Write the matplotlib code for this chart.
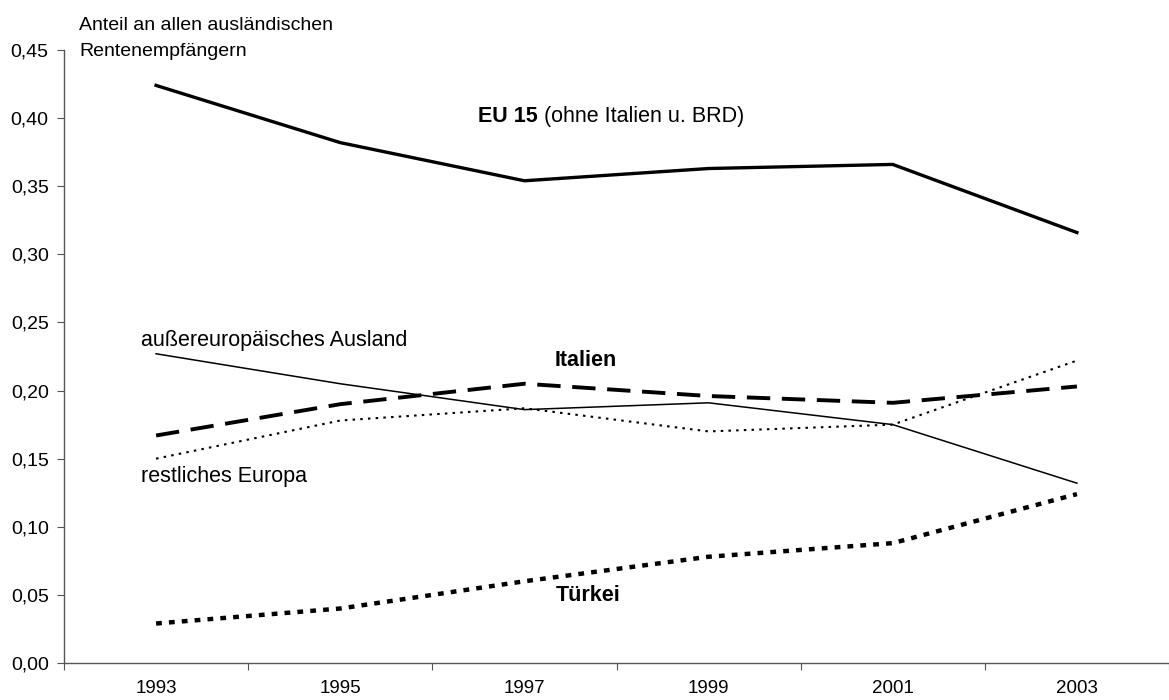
import matplotlib
matplotlib.use('Agg')
import matplotlib.pyplot as plt
from matplotlib.ticker import FuncFormatter

plt.rcParams['font.family'] = ['Liberation Sans', 'DejaVu Sans']

years = ['1993', '1995', '1997', '1999', '2001', '2003']
eu15 = [0.424, 0.382, 0.354, 0.363, 0.366, 0.316]
italien = [0.167, 0.190, 0.205, 0.196, 0.191, 0.203]
ausserEU = [0.227, 0.205, 0.186, 0.191, 0.175, 0.132]
rest_europa = [0.150, 0.178, 0.187, 0.170, 0.175, 0.222]
tuerkei = [0.029, 0.040, 0.060, 0.078, 0.088, 0.124]

x = list(range(len(years)))

fig = plt.figure(figsize=(11.69, 7.0), dpi=100)
# axes from left spine (px 64) to the right edge of the image
ax = fig.add_axes([64/1169, 37/700, 1105/1169, 613/700])

ax.plot(x, eu15, '-', color='black', lw=2.4)
ax.plot(x, italien, color='black', lw=2.8, dashes=(6, 3))
ax.plot(x, ausserEU, '-', color='black', lw=1.1)
ax.plot(x, rest_europa, color='black', lw=1.5, dashes=(1.2, 2.5))
ax.plot(x, tuerkei, color='black', lw=3.2, dashes=(1.3, 1.6))

ax.set_ylim(0, 0.45)
ax.set_xlim(-0.5, -0.5 + 1105/186.4)
ax.set_yticks([i*0.05 for i in range(10)])
ax.yaxis.set_major_formatter(FuncFormatter(lambda v, p: ('%.2f' % v).replace('.', ',')))

# Excel style: ticks between categories, labels centred
ax.set_xticks([i - 0.5 for i in range(7)])
ax.set_xticklabels([])
ax.set_xticks(x, minor=True)
ax.set_xticklabels(years, minor=True)
ax.tick_params(axis='x', which='minor', length=0, pad=12, labelsize=13.5)
ax.tick_params(axis='x', which='major', length=5, direction='out', color='#555555')
ax.tick_params(axis='y', length=5, direction='out', color='#555555', labelsize=14, pad=6)

for s in ['top', 'right']:
    ax.spines[s].set_visible(False)
for s in ['left', 'bottom']:
    ax.spines[s].set_color('#555555')
    ax.spines[s].set_linewidth(1.0)

def dx(px):
    return (px - 157.2) / 186.4

def dy(py):
    return (663 - py) / 1362

fig.text(79/1169, 1 - 30/700, 'Anteil an allen ausländischen', fontsize=14, va='baseline', ha='left')
fig.text(79/1169, 1 - 56/700, 'Rentenempfängern', fontsize=14, va='baseline', ha='left')

t = ax.text(dx(483), dy(122), 'EU 15', fontsize=15.5, fontweight='bold', va='baseline', ha='left')
fig.canvas.draw()
bb = t.get_window_extent()
xend = ax.transData.inverted().transform((bb.x1, 0))[0]
ax.text(xend, dy(122), ' (ohne Italien u. BRD)', fontsize=15.5, va='baseline', ha='left')
ax.text(dx(142), dy(346), 'außereuropäisches Ausland', fontsize=15.5, va='baseline', ha='left')
ax.text(dx(561), dy(366), 'Italien', fontsize=15.5, fontweight='bold', va='baseline', ha='left')
ax.text(dx(142), dy(482), 'restliches Europa', fontsize=15.5, va='baseline', ha='left')
ax.text(dx(562), dy(601), 'Türkei', fontsize=15.5, fontweight='bold', va='baseline', ha='left')

fig.savefig('out.png', dpi=100)
